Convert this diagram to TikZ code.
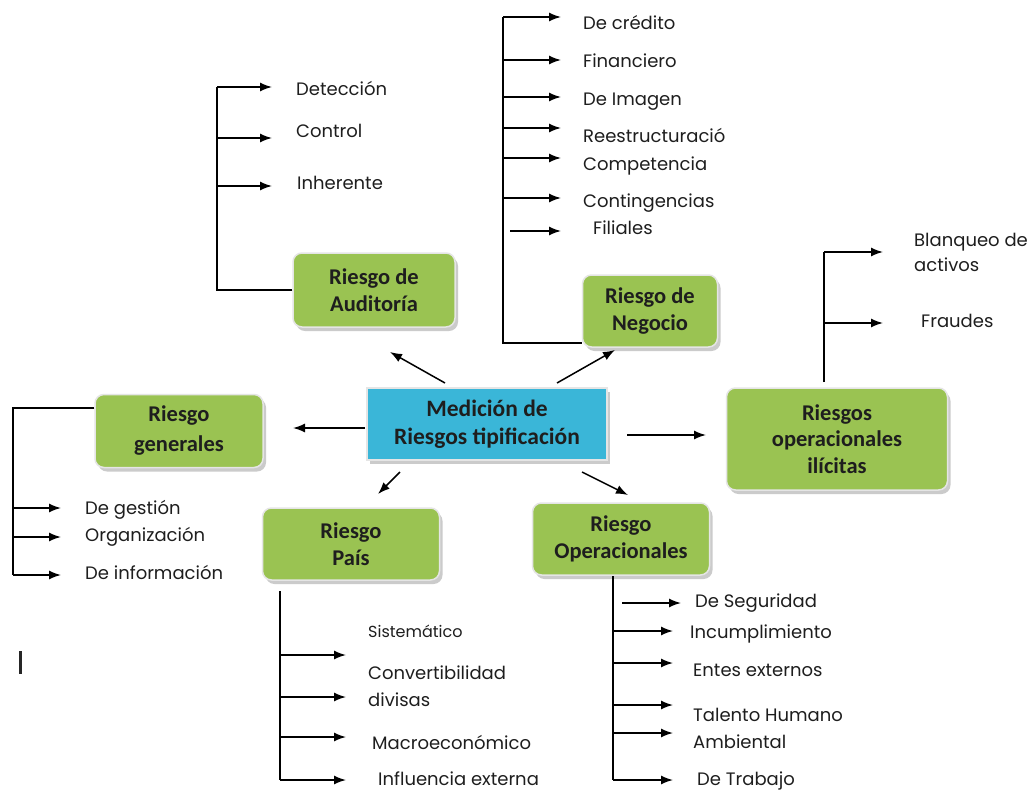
\documentclass[tikz,border=0pt]{standalone}
\usepackage{fontspec}
\setmainfont{Poppins}
\newfontfamily\boxfont{Carlito}
\usetikzlibrary{arrows.meta,shadows}
\definecolor{boxgreen}{HTML}{9AC352}
\definecolor{boxcyan}{HTML}{3AB6D8}
\definecolor{txt}{HTML}{1E1E1E}
\begin{document}
\begin{tikzpicture}[x=1pt,y=-1pt,
 ln/.style={line width=1.5pt,black},
 arr/.style={ln,-{Latex[length=12pt,width=9pt]}},
 lbl/.style={anchor=west,inner sep=0,font=\fontsize{18}{20}\selectfont,text=txt,text height=1.5ex,text depth=.3ex},
 boxbase/.style={align=center,inner sep=0,text=txt,
   font=\boxfont\bfseries\fontsize{22.5}{26.5}\selectfont,
   drop shadow={shadow xshift=3pt,shadow yshift=-4pt,fill=black!40,opacity=.5}},
 gbox/.style={boxbase,rounded corners=9pt,fill=boxgreen,draw=white!90!black,line width=1.5pt},
 cbox/.style={boxbase,fill=boxcyan,draw=white!90!black,line width=1.5pt},
]
\useasboundingbox[fill=white] (0,0) rectangle (1035,790);

% boxes
\node[cbox,minimum width=240pt,minimum height=72pt,font=\boxfont\bfseries\fontsize{23.5}{28}\selectfont] (med) at (487,424) {Medición de\\Riesgos tipificación};
\node[gbox,minimum width=162pt,minimum height=74pt] (aud) at (374,290) {Riesgo de\\Auditoría};
\node[gbox,minimum width=135pt,minimum height=72pt] (neg) at (650,311) {Riesgo de\\Negocio};
\node[gbox,minimum width=168pt,minimum height=73pt,font=\boxfont\bfseries\fontsize{22.5}{30}\selectfont] (gen) at (179,431) {Riesgo\\generales};
\node[gbox,minimum width=177pt,minimum height=72pt] (pai) at (351,544) {Riesgo\\País};
\node[gbox,minimum width=177pt,minimum height=72pt] (ope) at (621,539) {Riesgo\\Operacionales};
\node[gbox,minimum width=221pt,minimum height=102pt] (ili) at (837,439) {Riesgos\\operacionales\\ilícitas};

% arrows from centre
\coordinate (m1) at (445,383); \coordinate (t1) at (390,352);
\coordinate (m2) at (557,383); \coordinate (t2) at (615,350);
\coordinate (m3) at (365,428); \coordinate (t3) at (293,428);
\coordinate (m4) at (627,435); \coordinate (t4) at (706,435);
\coordinate (m5) at (400,472); \coordinate (t5) at (378,494);
\coordinate (m6) at (582,472); \coordinate (t6) at (628,495);
\draw[arr] (m1) -- (t1);
\draw[arr] (m2) -- (t2);
\draw[arr] (m3) -- (t3);
\draw[arr] (m4) -- (t4);
\draw[arr] (m5) -- (t5);
\draw[arr] (m6) -- (t6);

% Auditoria branch
\node[lbl] (det) at (296,92) {Detección};
\node[lbl] (con) at (296,134) {Control};
\node[lbl] (inh) at (297,186) {Inherente};
\coordinate (aT) at (217,87); \coordinate (aB) at (217,290);
\coordinate (a2) at (217,138); \coordinate (a3) at (217,186);
\draw[ln] (aud.west |- aB) -- (aB) -- (aT);
\draw[arr] (aT) -- (272,87) coordinate (ae1);
\draw[arr] (a2) -- (272,138) coordinate (ae2);
\draw[arr] (a3) -- (272,186) coordinate (ae3);

% Negocio branch
\node[lbl] (n1) at (583,26) {De crédito};
\node[lbl] (n2) at (583,64) {Financiero};
\node[lbl] (n3) at (583,102) {De Imagen};
\node[lbl] (n4) at (583,139) {Reestructuració};
\node[lbl] (n5) at (583,167) {Competencia};
\node[lbl] (n6) at (583,204) {Contingencias};
\node[lbl] (n7) at (593,231) {Filiales};
\coordinate (nT) at (503,17); \coordinate (nB) at (503,343);
\draw[ln] (neg.west |- nB) -- (nB) -- (nT);
\coordinate (nb2) at (503,60); \coordinate (nb3) at (503,97);
\coordinate (nb4) at (503,128); \coordinate (nb5) at (503,158);
\coordinate (nb6) at (503,198); \coordinate (nb7) at (510,231);
\draw[arr] (nT) -- (561,17);
\draw[arr] (nb2) -- (561,60);
\draw[arr] (nb3) -- (561,97);
\draw[arr] (nb4) -- (561,128);
\draw[arr] (nb5) -- (561,158);
\draw[arr] (nb6) -- (561,198);
\draw[arr] (nb7) -- (561,231);

% Ilicitas branch
\node[lbl] (b1) at (914,243) {Blanqueo de};
\node[lbl] (b2) at (914,268) {activos};
\node[lbl] (fr) at (921,324) {Fraudes};
\coordinate (iT) at (824,252); \coordinate (iB) at (824,382);
\coordinate (i2) at (824,323);
\draw[ln] (iB) -- (iT);
\draw[arr] (iT) -- (883,252);
\draw[arr] (i2) -- (883,323);

% Generales branch
\node[lbl] (g1) at (85,511) {De gestión};
\node[lbl] (g2) at (85,538) {Organización};
\node[lbl] (g3) at (85,576) {De información};
\coordinate (gT) at (13,408); \coordinate (gB) at (13,575);
\coordinate (g1b) at (13,508); \coordinate (g2b) at (13,537);
\draw[ln] (gen.west |- gT) -- (gT) -- (gB);
\draw[arr] (g1b) -- (61,508);
\draw[arr] (g2b) -- (61,537);
\draw[arr] (gB) -- (61,575);

% Pais branch
\node[lbl,font=\fontsize{16}{18}\selectfont] (p0) at (368,634) {Sistemático};
\node[lbl] (p1) at (368,676) {Convertibilidad};
\node[lbl] (p2) at (368,703) {divisas};
\node[lbl] (p3) at (372,746) {Macroeconómico};
\node[lbl] (p4) at (378,782) {Influencia externa};
\coordinate (pT) at (280,591); \coordinate (pB) at (280,780);
\coordinate (pb1) at (280,655); \coordinate (pb2) at (280,697);
\coordinate (pb3) at (280,737);
\draw[ln] (pT) -- (pB);
\draw[arr] (pb1) -- (346,655);
\draw[arr] (pb2) -- (346,697);
\draw[arr] (pb3) -- (346,737);
\draw[arr] (pB) -- (346,780);

% Operacionales branch
\node[lbl] (o1) at (695,604) {De Seguridad};
\node[lbl] (o2) at (690,635) {Incumplimiento};
\node[lbl] (o3) at (693,673) {Entes externos};
\node[lbl] (o4) at (693,718) {Talento Humano};
\node[lbl] (o5) at (693,745) {Ambiental};
\node[lbl] (o6) at (697,782) {De Trabajo};
\coordinate (oT) at (613,576); \coordinate (oB) at (613,780);
\coordinate (ob1) at (622,603); \coordinate (ob2) at (613,631);
\coordinate (ob3) at (613,663); \coordinate (ob4) at (613,705);
\coordinate (ob5) at (613,733);
\draw[ln] (oT) -- (oB);
\draw[arr] (ob1) -- (681,603);
\draw[arr] (ob2) -- (673,631);
\draw[arr] (ob3) -- (673,663);
\draw[arr] (ob4) -- (673,705);
\draw[arr] (ob5) -- (673,733);
\draw[arr] (oB) -- (673,780);

% stray bar
\draw[line width=3pt,black!85] (20,651) -- (20,674);
\end{tikzpicture}
\end{document}
